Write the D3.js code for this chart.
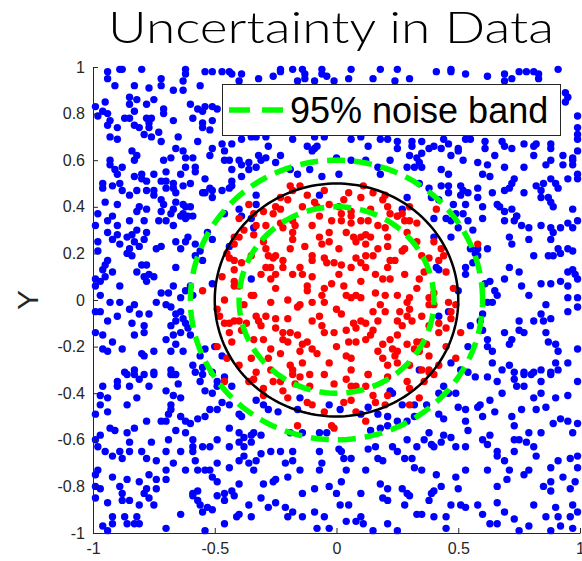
<!DOCTYPE html>
<html>
<head>
<meta charset="utf-8">
<script src="https://cdn.jsdelivr.net/npm/d3@7"></script>
<style>
  body { margin: 0; background: #fff; }
  svg { display: block; }
</style>
</head>
<body>
<svg id="chart" width="582" height="561"></svg>
<script>
// Axis ticks
const xTicks = [-1, -0.5, 0, 0.5, 1];
const yTicks = [-1, -0.8, -0.6, -0.4, -0.2, 0, 0.2, 0.4, 0.6, 0.8, 1];

// Decision boundary and the 95% noise band around it
const boundaryRadii = [0.5];
const bandRadii = [0.4, 0.6];
const legendLabels = ["95% noise band"];

// Samples labelled outside the boundary
const bluePoints = [
[-0.94,0.98],[-0.94,0.95],[-0.89,0.99],[-0.88,0.99],[-0.80,0.99],[-0.72,0.95],[-0.62,0.99],[-0.62,0.97],[-0.63,0.94],[-0.54,0.98],[-0.51,0.98],[-0.47,0.98],[-0.44,0.98],[-0.43,0.97],[-0.39,0.97],[-0.40,0.94],
[-0.91,0.92],[-0.83,0.92],[-0.77,0.91],[-0.72,0.92],[-0.67,0.90],[-0.63,0.90],[-0.56,0.92],[-0.85,0.87],[-0.82,0.86],[-0.85,0.84],[-0.78,0.84],[-0.75,0.86],[-0.95,0.85],[-0.99,0.83],[-0.96,0.81],[-0.98,0.79],[-0.94,0.80],[-0.93,0.77],[-0.94,0.75],[-0.83,0.81],[-0.71,0.82],[-0.71,0.80],[-0.60,0.84],[-0.57,0.82],[-0.54,0.83],[-0.51,0.83],[-0.49,0.82],[-0.55,0.81],
[-0.87,0.78],[-0.85,0.78],[-0.78,0.78],[-0.76,0.78],[-0.77,0.76],[-0.67,0.77],[-0.59,0.78],[-0.55,0.76],[-0.55,0.74],[-0.51,0.77],[-0.52,0.73],[-0.83,0.75],[-0.81,0.74],[-0.77,0.74],[-0.90,0.74],[-0.93,0.70],[-0.90,0.69],[-0.79,0.71],[-0.76,0.70],[-0.73,0.72],[-0.72,0.68],[-0.65,0.70],[-0.57,0.68],
[-0.84,0.64],[-0.82,0.62],[-0.83,0.60],[-0.71,0.60],[-0.68,0.61],[-0.66,0.65],[-0.63,0.64],[-0.62,0.61],[-0.59,0.61],[-0.52,0.62],[-0.51,0.65],[-0.47,0.67],[-0.43,0.67],[-0.39,0.69],[-0.35,0.70],[-0.46,0.64],[-0.46,0.60],[-0.44,0.60],[-0.40,0.60],[-0.39,0.58],[-0.36,0.59],
[-0.93,0.60],[-0.93,0.58],[-0.91,0.56],[-0.88,0.57],[-0.90,0.54],[-0.83,0.53],[-0.80,0.54],[-0.80,0.52],[-0.75,0.54],[-0.72,0.51],[-0.78,0.51],[-0.70,0.55],[-0.64,0.54],[-0.62,0.57],[-0.58,0.57],[-0.58,0.55],[-0.54,0.52],[-0.43,0.56],[-0.39,0.53],[-0.36,0.56],[-0.43,0.51],[-0.43,0.49],[-0.44,0.48],
[-0.96,0.50],[-0.96,0.48],[-0.92,0.49],[-0.89,0.50],[-0.88,0.47],[-0.85,0.45],[-0.82,0.47],[-0.78,0.47],[-0.75,0.45],[-0.75,0.47],[-0.70,0.51],[-0.70,0.48],[-0.67,0.48],[-0.67,0.50],[-0.66,0.46],[-0.63,0.49],[-0.60,0.50],[-0.55,0.46],[-0.54,0.46],[-0.52,0.48],[-0.51,0.47],[-0.51,0.44],[-0.47,0.47],
[-0.95,0.42],[-0.90,0.41],[-0.81,0.40],[-0.78,0.39],[-0.72,0.43],[-0.71,0.41],[-0.67,0.39],[-0.66,0.42],[-0.63,0.41],[-0.62,0.40],[-0.68,0.37],[-0.72,0.38],[-0.63,0.37],[-0.60,0.40],[-0.61,0.36],[-0.82,0.38],[-0.98,0.37],[-0.92,0.36],[-0.46,0.37],[-0.40,0.39],[-0.39,0.36],
[-0.23,0.99],[-0.23,0.98],[-0.26,0.96],[-0.32,0.95],[-0.18,0.99],[-0.14,0.99],[-0.13,0.97],[-0.13,0.95],[-0.06,0.99],[-0.06,0.97],[-0.04,0.96],[-0.09,0.94],[-0.16,0.94],[0.06,0.99],[0.05,0.95],[-0.01,0.94],[0.18,0.99],[0.15,0.95],[0.24,0.94],[0.25,0.99],[0.30,0.95],
[0.41,0.98],[0.47,0.99],[0.47,0.98],[0.53,0.97],[0.62,0.96],[0.69,0.97],[0.72,0.95],[0.75,0.98],[0.78,0.98],[0.81,0.98],[0.83,0.97],[0.83,0.95],[0.91,0.99],[0.69,0.94],[0.94,0.89],[0.95,0.87],[0.94,0.85],[0.99,0.79],[0.99,0.74],
[0.35,0.68],[0.38,0.65],[0.40,0.66],[0.43,0.65],[0.44,0.69],[0.46,0.67],[0.50,0.65],[0.50,0.64],[0.53,0.69],[0.55,0.69],[0.47,0.62],[0.52,0.60],[0.61,0.68],[0.61,0.65],[0.65,0.62],[0.68,0.68],[0.69,0.66],[0.72,0.65],[0.77,0.67],[0.81,0.66],[0.82,0.67],[0.81,0.62],[0.88,0.65],[0.88,0.67],[0.88,0.60],[0.93,0.62],[0.97,0.61],[0.97,0.60],[0.99,0.71],[0.99,0.69],[0.99,0.64],[0.35,0.63],[0.34,0.59],[0.35,0.57],[0.43,0.56],[0.46,0.54],[0.58,0.59],[0.62,0.58],[0.60,0.54],[0.63,0.53],[0.69,0.57],[0.77,0.57],[0.86,0.58],[0.93,0.58],[0.97,0.58],[0.72,0.50],[0.73,0.52],[0.71,0.48],[0.58,0.48],[0.46,0.49],[0.43,0.49],[0.51,0.49],[0.52,0.47],[0.54,0.46],[0.64,0.46],[0.69,0.47],[0.77,0.46],[0.82,0.49],[0.84,0.47],[0.85,0.50],[0.88,0.52],[0.90,0.50],[0.91,0.48],[0.95,0.52],[0.99,0.54],[0.99,0.52],[0.66,0.41],[0.67,0.40],[0.72,0.39],[0.69,0.38],[0.74,0.36],[0.88,0.42],[0.89,0.40],[0.97,0.39],[0.84,0.44],[0.87,0.44],[0.34,0.50],[0.38,0.48],[0.39,0.44],[0.42,0.43],[0.46,0.46],[0.48,0.41],[0.51,0.45],[0.53,0.41],[0.52,0.37],[0.58,0.44],[0.60,0.40],[0.49,0.37],
[-0.33,0.70],[-0.29,0.70],[-0.18,0.69],[-0.09,0.70],[-0.05,0.70],[0.06,0.69],[0.10,0.70],[0.18,0.69],[0.21,0.69],[0.25,0.68],[0.31,0.68],[-0.28,0.66],[-0.12,0.66],[-0.08,0.66],[-0.09,0.65],[0.13,0.66],[0.25,0.65],[0.31,0.66],[-0.32,0.62],[-0.31,0.60],[-0.29,0.61],[-0.23,0.62],[-0.10,0.64],[0.00,0.61],[0.06,0.60],[0.12,0.60],[0.22,0.60],[0.30,0.62],[0.33,0.61],[-0.33,0.57],[-0.25,0.59],[-0.19,0.56],[-0.16,0.54],[-0.11,0.56],[-0.06,0.53],[0.01,0.54],[0.17,0.57],[0.18,0.54],[0.29,0.57],[0.32,0.57],[-0.33,0.45],[-0.33,0.41],[-0.07,0.45],[0.29,0.44],[0.27,0.39],
[-0.99,0.32],[-0.94,0.34],[-0.90,0.32],[-0.85,0.34],[-0.79,0.34],[-0.73,0.34],[-0.70,0.34],[-0.67,0.32],[-0.64,0.36],[-0.62,0.35],[-0.59,0.36],[-0.98,0.25],[-0.94,0.29],[-0.92,0.26],[-0.90,0.28],[-0.89,0.24],[-0.86,0.27],[-0.84,0.28],[-0.82,0.30],[-0.83,0.25],[-0.81,0.23],[-0.85,0.22],[-0.86,0.20],[-0.84,0.19],[-0.78,0.29],[-0.79,0.26],[-0.74,0.22],[-0.72,0.23],[-0.66,0.25],[-0.64,0.22],[-0.62,0.25],[-0.61,0.27],[-0.58,0.24],[-0.51,0.26],[-0.58,0.19],[-0.55,0.17],
[-0.98,0.21],[-0.95,0.15],[-0.94,0.17],[-0.96,0.13],[-0.92,0.12],[-0.99,0.09],[-0.99,0.06],[-0.97,0.08],[-0.95,0.10],[-0.97,0.02],[-0.89,0.06],[-0.82,0.12],[-0.80,0.15],[-0.78,0.15],[-0.79,0.10],[-0.78,0.08],[-0.77,0.11],[-0.75,0.10],[-0.66,0.14],[-0.72,0.03],[-0.69,0.03],[-0.67,0.06],[-0.64,0.01],[-0.62,0.04],[-0.60,0.06],[-0.59,0.02],[-0.51,0.07],
[-0.74,-0.01],[-0.83,-0.02],[-0.85,-0.04],[-0.81,-0.06],[-0.93,-0.01],[-0.97,-0.05],[-0.99,-0.05],[-0.94,-0.09],[-0.89,-0.01],[-0.90,-0.07],[-0.84,-0.10],[-0.77,-0.06],[-0.70,-0.02],[-0.68,-0.03],[-0.66,-0.06],[-0.64,-0.05],[-0.63,-0.08],[-0.62,-0.10],[-0.66,-0.09],[-0.68,-0.11],[-0.67,-0.15],[-0.64,-0.14],
[-0.99,-0.14],[-0.96,-0.15],[-0.92,-0.18],[-0.83,-0.15],[-0.79,-0.11],[-0.79,-0.14],[-0.70,-0.17],[-0.66,-0.19],[-0.61,-0.12],[-0.60,-0.15],[-0.96,-0.21],[-0.94,-0.22],[-0.88,-0.21],[-0.80,-0.23],[-0.79,-0.24],[-0.75,-0.22],[-0.68,-0.22],[-0.63,-0.22],[-0.87,-0.31],[-0.83,-0.30],[-0.75,-0.31],[-0.68,-0.30],[-0.67,-0.32],[-0.59,-0.28],[-0.58,-0.31],[-0.55,-0.29],[-0.56,-0.24],[-0.54,-0.21],[-0.50,-0.20],[-0.47,-0.24],[-0.51,-0.31],[-0.53,0.29],[-0.56,0.21],[-0.44,0.23],[-0.34,0.31],
[-0.35,0.35],[-0.35,0.09],[0.34,-0.30],
[0.41,0.14],[0.42,0.13],[0.42,-0.07],[0.40,0.35],[0.45,0.35],[0.47,0.34],[0.50,0.31],[0.54,0.34],[0.56,0.30],[0.40,0.27],[0.47,0.27],[0.55,0.22],[0.57,0.20],[0.58,0.22],[0.58,0.19],[0.56,0.16],[0.62,0.22],[0.53,0.14],[0.53,0.11],[0.61,0.07],[0.63,0.08],[0.65,0.04],[0.66,0.02],[0.69,0.09],[0.64,-0.01],[0.62,-0.01],[0.60,-0.06],[0.59,-0.09],[0.60,-0.13],[0.55,-0.11],[0.62,-0.17],[0.62,-0.20],[0.64,-0.22],[0.64,-0.27],[0.54,-0.20],[0.47,-0.27],[0.51,-0.30],
[0.69,0.34],[0.73,0.34],[0.74,0.36],[0.76,0.32],[0.79,0.31],[0.84,0.32],[0.88,0.31],[0.89,0.29],[0.92,0.31],[0.95,0.33],[0.97,0.31],[0.99,0.34],[0.71,0.27],[0.72,0.24],[0.79,0.26],[0.88,0.26],[0.91,0.22],[0.95,0.22],[0.97,0.21],[0.71,0.14],[0.75,0.12],[0.81,0.19],[0.87,0.19],[0.89,0.19],[0.92,0.20],[0.95,0.12],[0.97,0.13],[0.98,0.11],[0.99,0.09],[0.76,0.06],[0.79,0.02],[0.84,0.07],[0.88,0.07],[0.92,0.08],[0.95,0.06],[0.95,0.01],[0.99,0.01],[0.86,-0.02],[0.84,-0.06],[0.81,-0.09],[0.85,-0.09],[0.88,-0.08],[0.95,-0.05],[0.99,-0.03],[0.69,-0.14],[0.75,-0.09],[0.75,-0.13],[0.77,-0.14],[0.72,-0.17],[0.71,-0.19],[0.86,-0.14],[0.90,-0.19],[0.87,-0.18],[0.91,-0.22],[0.95,-0.27],[0.99,-0.21],[0.77,-0.31],[0.81,-0.31],[0.84,-0.30],[0.88,-0.31],[0.91,-0.30],[0.90,-0.27],[0.68,-0.30],[0.71,-0.28],[0.73,-0.31],[0.60,0.35],[0.50,0.04],[0.46,-0.05],
[-0.90,-0.35],[-0.90,-0.37],[-0.86,-0.32],[-0.83,-0.32],[-0.79,-0.32],[-0.75,-0.32],[-0.81,-0.34],[-0.85,-0.37],[-0.77,-0.37],[-0.96,-0.37],[-0.97,-0.41],[-0.94,-0.42],[-0.97,-0.45],[-0.99,-0.49],[-0.94,-0.48],[-0.86,-0.45],[-0.82,-0.42],[-0.70,-0.39],[-0.68,-0.32],[-0.66,-0.32],[-0.65,-0.36],[-0.67,-0.41],[-0.64,-0.42],[-0.68,-0.45],[-0.68,-0.47],[-0.69,-0.49],[-0.64,-0.50],[-0.70,-0.52],[-0.72,-0.52],[-0.78,-0.52],[-0.62,-0.52],[-0.60,-0.53],[-0.57,-0.51],[-0.66,-0.56],[-0.62,-0.57],[-0.59,-0.60],[-0.69,-0.60],
[-0.93,-0.55],[-0.91,-0.56],[-0.86,-0.57],[-0.83,-0.55],[-0.97,-0.58],[-0.99,-0.60],[-0.98,-0.63],[-0.95,-0.65],[-0.89,-0.65],[-0.88,-0.68],[-0.85,-0.65],[-0.92,-0.67],[-0.85,-0.61],[-0.76,-0.61],[-0.80,-0.65],[-0.78,-0.68],[-0.74,-0.69],[-0.70,-0.65],[-0.67,-0.70],[-0.62,-0.73],[-0.58,-0.69],[-0.57,-0.73],[-0.59,-0.65],[-0.59,-0.63],[-0.64,-0.65],[-0.70,-0.73],[-0.77,-0.75],[-0.74,-0.77],[-0.81,-0.78],[-0.86,-0.77],[-0.89,-0.80],[-0.92,-0.76],[-0.98,-0.73],[-0.99,-0.75],[-0.99,-0.80],[-0.97,-0.81],[-0.99,-0.85],[-0.94,-0.87],[-0.88,-0.83],[-0.85,-0.86],[-0.88,-0.86],[-0.79,-0.83],[-0.77,-0.85],[-0.78,-0.81],[-0.74,-0.81],[-0.70,-0.77],[-0.81,-0.88],[-0.75,-0.88],[-0.82,-0.93],[-0.87,-0.93],[-0.92,-0.93],[-0.92,-0.96],[-0.96,-0.97],[-0.94,-0.99],[-0.86,-0.96],[-0.83,-0.96],[-0.81,-0.96],[-0.70,-0.98],[-0.64,-0.92],
[-0.59,-0.83],[-0.59,-0.84],[-0.57,-0.82],[-0.57,-0.86],[-0.56,-0.88],[-0.55,-0.91],[-0.53,-0.89],[-0.51,-0.90],[-0.54,-0.99],[-0.46,-0.86],[-0.46,-0.96],[-0.41,-0.93],[-0.40,-0.92],[-0.36,-0.88],[-0.35,-0.93],[-0.43,-0.82],[-0.42,-0.84],[-0.49,-0.84],[-0.46,-0.83],[-0.49,-0.78],[-0.44,-0.72],[-0.40,-0.69],[-0.38,-0.67],[-0.36,-0.70],[-0.34,-0.73],[-0.40,-0.79],[-0.51,-0.76],[-0.54,-0.73],[-0.52,-0.73],[-0.49,-0.70],[-0.44,-0.63],[-0.40,-0.61],[-0.38,-0.63],[-0.35,-0.58],[-0.38,-0.59],[-0.40,-0.57],[-0.44,-0.55],[-0.49,-0.60],[-0.52,-0.63],[-0.55,-0.63],[-0.54,-0.50],[-0.52,-0.47],[-0.49,-0.47],[-0.47,-0.44],[-0.44,-0.45],[-0.40,-0.49],[-0.39,-0.50],[-0.51,-0.40],[-0.49,-0.37],[-0.54,-0.39],[-0.55,-0.32],[-0.56,-0.35],[-0.49,-0.35],[-0.46,-0.33],[-0.43,-0.37],
[-0.33,-0.43],[-0.30,-0.45],[-0.28,-0.47],[-0.24,-0.48],[-0.15,-0.42],[-0.16,-0.47],[-0.03,-0.45],[0.015,-0.47],[0.10,-0.49],[0.13,-0.46],[0.17,-0.49],[0.21,-0.50],[0.22,-0.39],[0.23,-0.40],[0.27,-0.45],[0.32,-0.45],[0.32,-0.50],[0.29,-0.52],[0.25,-0.52],[0.21,-0.54],[0.18,-0.55],[0.14,-0.56],[-0.04,-0.57],[-0.07,-0.57],[-0.14,-0.57],[-0.19,-0.57],[-0.34,-0.57],[-0.31,-0.58],[0.29,-0.60],[0.33,-0.63],
[-0.35,-0.61],[-0.31,-0.66],[-0.27,-0.65],[-0.23,-0.65],[-0.18,-0.65],[-0.21,-0.70],[-0.18,-0.69],[-0.15,-0.73],[-0.20,-0.76],[-0.25,-0.77],[-0.30,-0.79],[-0.26,-0.78],[-0.33,-0.69],[-0.07,-0.65],[-0.06,-0.70],[-0.07,-0.73],[0.01,-0.64],[0.02,-0.65],[0.03,-0.68],[0.06,-0.68],[0.04,-0.73],[0.02,-0.78],[-0.03,-0.80],[0.00,-0.83],[-0.09,-0.81],[-0.14,-0.83],[-0.31,-0.85],[-0.28,-0.89],[-0.25,-0.87],[-0.21,-0.89],[-0.20,-0.93],[-0.14,-0.93],[-0.05,-0.93],[-0.09,-0.91],[-0.08,-0.98],[0.015,-0.88],[0.05,-0.88],[0.04,-0.95],[0.10,-0.93],[0.11,-0.96],[0.10,-0.83],[0.13,-0.64],[0.16,-0.63],[0.17,-0.68],[0.19,-0.69],[0.21,-0.81],[0.19,-0.85],[0.21,-0.86],[0.27,-0.81],[0.29,-0.83],[0.30,-0.84],[0.25,-0.99],[0.21,-0.96],[0.15,-0.99],[0.23,-0.63],[0.25,-0.65],[0.28,-0.68],[0.31,-0.68],[0.32,-0.72],[0.12,-0.73],[0.18,-0.79],[0.28,-0.88],[0.33,-0.92],[-0.18,-0.91],[0.08,-0.95],[-0.03,-0.98],
[0.37,-0.45],[0.42,-0.40],[0.44,-0.37],[0.46,-0.40],[0.49,-0.40],[0.54,-0.31],[0.57,-0.33],[0.62,-0.33],[0.66,-0.35],[0.68,-0.40],[0.73,-0.34],[0.74,-0.37],[0.77,-0.32],[0.80,-0.32],[0.77,-0.37],[0.81,-0.42],[0.84,-0.35],[0.88,-0.32],[0.99,-0.35],[0.95,-0.41],[0.90,-0.42],[0.84,-0.40],[0.86,-0.46],[0.82,-0.47],[0.76,-0.47],[0.72,-0.50],[0.73,-0.54],[0.65,-0.48],[0.63,-0.43],[0.59,-0.45],[0.58,-0.46],[0.60,-0.50],[0.50,-0.46],[0.53,-0.47],[0.53,-0.52],[0.54,-0.56],[0.42,-0.49],[0.44,-0.51],
[0.38,-0.57],[0.36,-0.60],[0.39,-0.62],[0.40,-0.63],[0.43,-0.61],[0.44,-0.58],[0.47,-0.59],[0.49,-0.63],[0.53,-0.63],[0.60,-0.60],[0.63,-0.58],[0.62,-0.62],[0.66,-0.65],[0.66,-0.67],[0.69,-0.69],[0.73,-0.60],[0.73,-0.65],[0.75,-0.60],[0.78,-0.61],[0.79,-0.57],[0.84,-0.57],[0.81,-0.63],[0.82,-0.67],[0.89,-0.53],[0.92,-0.51],[0.95,-0.52],[0.97,-0.57],[0.99,-0.53],[0.96,-0.68],[0.99,-0.67],[0.93,-0.76],[0.91,-0.69],[0.88,-0.72],[0.88,-0.78],[0.88,-0.82],[0.79,-0.73],[0.71,-0.73],[0.70,-0.77],[0.66,-0.80],[0.62,-0.73],[0.53,-0.73],[0.49,-0.76],[0.50,-0.81],[0.41,-0.75],[0.43,-0.80],[0.39,-0.83],[0.35,-0.73],
[0.38,-0.86],[0.35,-0.92],[0.40,-0.93],[0.45,-0.93],[0.45,-0.98],[0.47,-0.88],[0.51,-0.88],[0.53,-0.89],[0.58,-0.88],[0.60,-0.92],[0.63,-0.96],[0.66,-0.96],[0.66,-0.87],[0.73,-0.94],[0.79,-0.97],[0.81,-0.88],[0.86,-0.93],[0.90,-0.89],[0.91,-0.93],[0.96,-0.93],[0.97,-0.98],[0.99,-0.91],[0.92,-0.97],[0.97,-0.88],[0.88,-0.99],[0.75,-0.99],[0.69,-0.91],[0.98,-0.78],[0.96,-0.81],[0.99,-0.72],[0.40,-0.82],[0.77,-0.75],[0.85,-0.80]
];

// Samples labelled inside the boundary
const redPoints = [
[-0.36,0.41],
[-0.19,0.49],[-0.15,0.49],[-0.18,0.47],[-0.23,0.44],[-0.25,0.40],[-0.23,0.39],[-0.26,0.37],[-0.34,0.37],[-0.14,0.40],[-0.09,0.42],[-0.08,0.40],[-0.07,0.36],[0.01,0.40],[0.02,0.37],[0.06,0.38],[0.11,0.49],[0.10,0.44],[0.14,0.39],[0.15,0.46],[0.19,0.43],[0.21,0.40],[0.22,0.37],[0.25,0.36],[0.27,0.37],[-0.03,0.41],[-0.20,0.43],[0.03,0.43],
[0.41,0.39],
[-0.42,0.27],[-0.40,0.27],[-0.42,0.24],[-0.44,0.18],[-0.42,0.17],[-0.39,0.16],[-0.42,0.13],[-0.42,0.08],[-0.40,0.06],[-0.42,0.06],[-0.55,0.04],[-0.49,-0.04],[-0.46,-0.10],[-0.44,-0.10],[-0.42,-0.09],[-0.40,-0.09],[-0.37,-0.10],[-0.44,-0.14],[-0.39,-0.13],[-0.49,-0.20],[-0.43,-0.18],[-0.35,0.02],[-0.35,0.19],
[-0.33,0.32],[-0.29,0.32],[-0.23,0.33],[-0.22,0.31],[-0.18,0.34],[-0.17,0.32],[-0.10,0.32],[-0.02,0.34],[0.02,0.34],[0.06,0.36],[0.06,0.33],[0.10,0.34],[0.13,0.34],[0.17,0.32],[0.20,0.31],[0.25,0.36],[0.28,0.34],[0.30,0.34],[0.29,0.29],
[-0.34,0.28],[-0.18,0.29],[-0.18,0.26],[-0.07,0.27],[-0.06,0.24],[-0.03,0.29],[-0.03,0.25],[0.04,0.29],[0.07,0.27],[0.08,0.25],[0.10,0.27],[0.12,0.28],[0.14,0.27],[0.21,0.27],[0.17,0.22],[0.21,0.23],[0.27,0.21],
[-0.29,0.22],[-0.28,0.19],[-0.26,0.18],[-0.25,0.19],[-0.19,0.22],[-0.22,0.17],[-0.22,0.14],[-0.27,0.14],[-0.29,0.14],[-0.31,0.11],[-0.27,0.09],[-0.25,0.11],[-0.18,0.11],[-0.15,0.14],[-0.14,0.11],[-0.12,0.04],[-0.10,0.17],[-0.10,0.19],[-0.05,0.18],[-0.04,0.16],[-0.01,0.16],[0.01,0.22],[0.06,0.14],[0.10,0.16],[0.08,0.18],[0.12,0.19],[0.15,0.19],[0.12,0.14],[0.16,0.11],[0.21,0.14],[0.22,0.17],[0.24,0.17],[0.28,0.11],[0.19,0.09],[0.22,0.09],
[-0.02,0.07],[0.03,0.06],[0.04,0.02],[0.06,0.01],[0.08,0.02],[0.10,0.01],[-0.34,0.02],[-0.27,-0.01],[-0.12,0.06],[-0.16,-0.03],[-0.10,-0.01],[-0.06,0.02],[-0.05,-0.01],[0.00,-0.04],[0.02,-0.06],[0.16,0.03],[0.20,0.02],[0.25,0.02],[0.29,-0.01],[0.30,0.01],[0.30,-0.04],[0.29,-0.07],
[-0.33,-0.07],[-0.32,-0.09],[-0.29,-0.07],[-0.31,-0.11],[-0.25,-0.08],[-0.25,-0.12],[-0.20,-0.08],[-0.19,-0.14],[-0.16,-0.15],[-0.22,-0.17],[-0.20,-0.18],[-0.34,-0.17],[-0.30,-0.17],[-0.10,-0.09],[-0.07,-0.07],[-0.06,-0.11],[-0.05,-0.14],[-0.01,-0.14],[0.04,-0.13],[0.07,-0.10],[0.08,-0.12],[0.10,-0.09],[0.12,-0.10],[0.15,-0.13],[0.17,-0.09],[0.25,-0.09],[0.27,-0.11],[0.31,-0.09],[0.25,-0.15],[0.22,-0.17],[0.19,-0.19],[0.05,-0.18],[0.08,-0.18],
[-0.23,-0.23],[-0.10,-0.21],[-0.08,-0.23],[-0.14,-0.27],[-0.19,-0.28],[-0.18,-0.30],[-0.33,-0.31],[-0.03,-0.27],[0.06,-0.25],[0.04,-0.24],[0.17,-0.22],[0.23,-0.21],[0.25,-0.22],[0.24,-0.24],[0.25,-0.27],[0.19,-0.25],[0.21,-0.28],[0.13,-0.32],[0.32,-0.21],
[-0.15,-0.22],[-0.27,-0.21],[-0.14,-0.19],[0.01,0.11],[0.12,0.24],[-0.13,0.23],[0.18,-0.02],[0.26,-0.05],[0.14,-0.15],[0.29,-0.19],[0.12,-0.17],[0.06,-0.30],[-0.27,-0.30],[-0.22,-0.14],[-0.15,-0.02],
[0.35,0.19],[0.38,0.18],[0.36,0.12],[0.34,0.09],[0.43,0.22],[0.44,0.19],[0.42,0.17],[0.40,0.03],[0.38,0.01],[0.38,-0.02],[0.40,-0.02],[0.46,-0.01],[0.49,-0.02],[0.47,-0.05],[0.38,-0.11],[0.42,-0.10],[0.45,-0.12],[0.42,-0.14],[0.35,-0.18],[0.34,-0.22],[0.37,-0.19],[0.38,-0.24],[0.35,-0.30],[0.38,-0.30],[0.49,-0.25],[0.51,-0.14],[0.58,0.24],[0.35,-0.07],
[-0.46,-0.35],[-0.36,-0.35],
[-0.30,-0.41],[-0.23,-0.35],[-0.22,-0.39],[-0.18,-0.32],[-0.17,-0.36],[-0.15,-0.33],[-0.11,-0.32],[-0.11,-0.37],[-0.10,-0.45],[-0.12,-0.44],[-0.05,-0.32],[-0.01,-0.36],[0.04,-0.34],[0.06,-0.37],[0.08,-0.37],[0.03,-0.44],[0.06,-0.43],[0.13,-0.32],[0.12,-0.37],[0.15,-0.41],[0.16,-0.44],[0.21,-0.33],[0.29,-0.35],[0.21,-0.41],[0.30,-0.45],[-0.16,-0.54],[-0.02,-0.54],[-0.01,-0.55],[0.12,-0.52],[-0.26,-0.35],[-0.34,-0.34],
[0.38,-0.31],[0.40,-0.32],[0.34,-0.42],
[-0.05,0.47],[0.05,0.46],[-0.12,0.45],[0.20,0.45],[-0.30,0.38],[0.30,0.40],[0.33,0.33],[-0.38,0.30],[-0.45,0.20],[-0.47,0.10],[-0.46,0.00],[-0.48,-0.07],[-0.45,-0.25],[-0.40,-0.28],[-0.30,-0.38],[-0.20,-0.42],[-0.05,-0.48],[0.08,-0.48],[0.20,-0.45],[0.30,-0.38],[0.36,-0.35],[0.42,-0.28],[0.45,-0.20],[0.47,-0.08],[0.48,0.05],[0.45,0.12],[0.40,0.25],[0.33,0.25],
[-0.10,0.10],[-0.05,0.05],[0.15,-0.05],[-0.20,0.00],[-0.25,0.05],[-0.12,-0.18],[0.00,-0.20],[0.02,0.15],[0.20,-0.05],[0.10,0.08],[-0.30,0.25],[-0.35,-0.25],[-0.28,-0.25],[0.30,-0.28],[0.33,-0.18],[0.28,0.22],[0.33,0.05],[-0.38,-0.02],[-0.40,0.35]
];

const svg = d3.select("#chart");

const x = d3.scaleLinear().domain([-1, 1]).range([93, 580]);
const y = d3.scaleLinear().domain([-1, 1]).range([533, 67]);

const axisColor = "#262626";
const font = "'Liberation Sans', Arial, Helvetica, sans-serif";

// Scatter: outside class first, inside class on top
const dotR = 3.7;
svg.append("g").selectAll("circle").data(bluePoints).join("circle")
  .attr("cx", d => x(d[0])).attr("cy", d => y(d[1])).attr("r", dotR)
  .attr("fill", "#0000ff");
svg.append("g").selectAll("circle").data(redPoints).join("circle")
  .attr("cx", d => x(d[0])).attr("cy", d => y(d[1])).attr("r", dotR)
  .attr("fill", "#ff0000");

// Circles in data space (drawn through the scales)
const angles = d3.range(0, 361, 2).map(a => a * Math.PI / 180);
const ring = r => d3.line()
  .x(t => x(r * Math.cos(t)))
  .y(t => y(r * Math.sin(t)))(angles);

svg.append("g").selectAll("path").data(boundaryRadii).join("path")
  .attr("d", d => ring(d))
  .attr("fill", "none").attr("stroke", "#000").attr("stroke-width", 2.5);

svg.append("g").selectAll("path").data(bandRadii).join("path")
  .attr("d", d => ring(d))
  .attr("fill", "none").attr("stroke", "#00ff00").attr("stroke-width", 5.5)
  .attr("stroke-dasharray", "18,9");

// Axes with inward ticks
const yAxis = d3.axisLeft(y).tickValues(yTicks).tickFormat(d => String(d))
  .tickSizeInner(-5).tickSizeOuter(0).tickPadding(8);
const xAxis = d3.axisBottom(x).tickValues(xTicks).tickFormat(d => String(d))
  .tickSizeInner(-5).tickSizeOuter(0).tickPadding(10);

const gy = svg.append("g").attr("transform", `translate(${x(-1)},0)`).call(yAxis);
const gx = svg.append("g").attr("transform", `translate(0,${y(-1)})`).call(xAxis);
[gx, gy].forEach(g => {
  g.selectAll("path, line").attr("stroke", axisColor).attr("stroke-width", 1);
  g.selectAll("text").attr("fill", axisColor).style("font-family", font).style("font-size", "16px");
});

// Y axis label
svg.append("text")
  .attr("transform", `translate(38,${y(0)}) rotate(-90)`)
  .attr("text-anchor", "middle")
  .attr("fill", axisColor)
  .style("font-family", font).style("font-size", "30px")
  .text("Y");

// Title
svg.append("text")
  .attr("x", 331).attr("y", 43)
  .attr("text-anchor", "middle")
  .attr("fill", "#000")
  .attr("textLength", 446)
  .attr("lengthAdjust", "spacingAndGlyphs")
  .style("font-family", "Lato, 'Noto Sans', sans-serif")
  .style("font-weight", 300)
  .style("font-size", "44px")
  .text("Uncertainty in Data");

// Legend
const lg = svg.append("g");
lg.append("rect")
  .attr("x", 222.5).attr("y", 84.5).attr("width", 338).attr("height", 51)
  .attr("fill", "#fff").attr("stroke", axisColor).attr("stroke-width", 1);
lg.selectAll("line").data(legendLabels).join("line")
  .attr("x1", 229).attr("x2", 283).attr("y1", 110).attr("y2", 110)
  .attr("stroke", "#00ff00").attr("stroke-width", 5.5).attr("stroke-dasharray", "21,12");
lg.selectAll("text").data(legendLabels).join("text")
  .attr("x", 290).attr("y", 123)
  .attr("fill", "#000")
  .style("font-family", font).style("font-size", "36px")
  .text(d => d);
</script>
</body>
</html>
